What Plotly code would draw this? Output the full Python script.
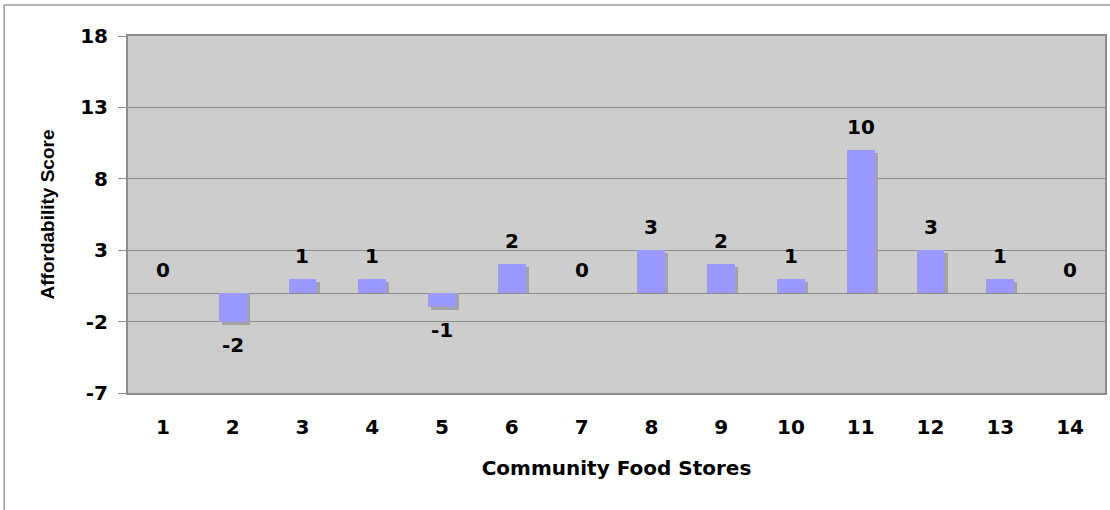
import plotly.graph_objects as go

# Affordability score for each community food store
stores = list(range(1, 15))
scores = [0, -2, 1, 1, -1, 2, 0, 3, 2, 1, 10, 3, 1, 0]
y_ticks = [-7, -2, 3, 8, 13, 18]

BAR_COLOR = "#9999ff"
SHADOW_COLOR = "#a3a3a3"
PLOT_BG = "#cdcdcd"
GRID = "#8c8c8c"
NUM_FONT = dict(family="DejaVu Sans", size=20, color="#000000")

# drop shadow: offset a few pixels right and down from each non-zero bar
shadow_dx = 0.045
shadow_dy = 0.21
shadow_x = [s + shadow_dx for s in stores]
shadow_y = [None if v == 0 else v - shadow_dy for v in scores]

fig = go.Figure()
fig.add_trace(go.Bar(
    x=shadow_x, y=shadow_y, width=0.4,
    marker=dict(color=SHADOW_COLOR, line=dict(width=0)),
    hoverinfo="skip", showlegend=False,
))
fig.add_trace(go.Bar(
    x=stores, y=scores, width=0.4,
    marker=dict(color=BAR_COLOR, line=dict(width=0)),
    showlegend=False,
))

# value labels above positive / zero bars and below negative bars
for s, v in zip(stores, scores):
    fig.add_annotation(
        x=s, y=v, text=f"<b>{v}</b>", showarrow=False,
        yshift=-23 if v < 0 else 23, font=NUM_FONT,
    )

# outer chart frame
fig.add_shape(type="rect", xref="paper", yref="paper",
              x0=-0.1267, x1=1.05, y0=-0.5, y1=1.0868,
              line=dict(color="#9a9a9a", width=1.5), fillcolor="rgba(0,0,0,0)",
              layer="below")

fig.update_layout(
    width=1110, height=510,
    margin=dict(l=128, r=3, t=36, b=117),
    paper_bgcolor="#ffffff",
    plot_bgcolor=PLOT_BG,
    barmode="overlay",
    bargap=0,
    xaxis=dict(
        range=[0.5, 14.5],
        tickvals=stores,
        ticktext=[f"<b>{s}</b>" for s in stores],
        tickfont=NUM_FONT,
        showgrid=False, zeroline=False,
        showline=True, linecolor="#8c8c8c", linewidth=2, mirror=True,
        ticks="", ticklabelstandoff=15,
        title=dict(text="<b>Community Food Stores</b>",
                   font=dict(family="DejaVu Sans", size=20, color="#000000"),
                   standoff=23),
    ),
    yaxis=dict(
        range=[-7, 18],
        tickvals=y_ticks,
        ticktext=[f"<b>{t}</b>" for t in y_ticks],
        tickfont=NUM_FONT,
        showgrid=True, gridcolor=GRID, gridwidth=1.2,
        zeroline=True, zerolinecolor=GRID, zerolinewidth=1.2,
        showline=True, linecolor="#8c8c8c", linewidth=2, mirror=True,
        ticks="outside", ticklen=8, tickcolor="#8c8c8c", tickwidth=1.2,
        ticklabelstandoff=6,
        title=dict(text="<b>Affordability Score</b>",
                   font=dict(family="Liberation Sans Narrow, Liberation Sans", size=19,
                             color="#000000"),
                   standoff=21),
    ),
)

fig.write_html("out.html")
